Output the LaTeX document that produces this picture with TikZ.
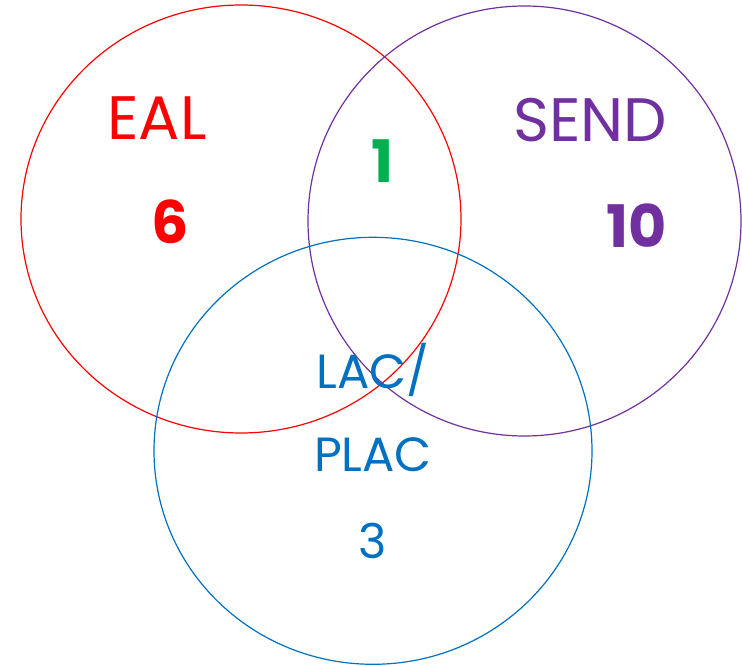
\documentclass[tikz,border=0pt]{standalone}
\usepackage{fontspec}
\setmainfont{Poppins}
\usetikzlibrary{calc,positioning}
\definecolor{ealred}{HTML}{FF0000}
\definecolor{sendpurple}{HTML}{7030A0}
\definecolor{lacblue}{HTML}{0070C0}
\definecolor{bothgreen}{HTML}{00B050}

\begin{document}
\begin{tikzpicture}[x=0.75pt,y=-0.75pt,
  ring/.style={line width=0.9pt},
  title/.style={font=\fontsize{46}{50}\selectfont},
  small/.style={font=\fontsize{36}{40}\selectfont},
  count/.style={font=\fontsize{44}{48}\selectfont\bfseries}]
\useasboundingbox (0,0) rectangle (742,666);
% centres of the three sets
\coordinate (E) at (241,219);
\coordinate (S) at (524.5,221);
\coordinate (L) at (373,450.8);
% draw the sets
\draw[ring,ealred] (E) ellipse [x radius=220,y radius=214];
\draw[ring,sendpurple] (S) ellipse [x radius=216.5,y radius=215];
\draw[ring,lacblue] (L) ellipse [x radius=219,y radius=213.5];
% labels of the sets
\node[title,text=ealred] (eal) at (157,118) {EAL};
\node[title,text=sendpurple] (send) at (590,120) {SEND};
\node[small,text=lacblue] (lac) at (373,370) {LAC/};
\node[small,text=lacblue] (plac) at (373,455) {PLAC};
% counts
\node[count,text=ealred] (six) at (170,222) {6};
\node[count,text=bothgreen] (one) at (383,161) {1};
\node[count,text=sendpurple] (ten) at (637,226) {10};
\node[small,text=lacblue] (three) at (373,541) {3};
\end{tikzpicture}
\end{document}
